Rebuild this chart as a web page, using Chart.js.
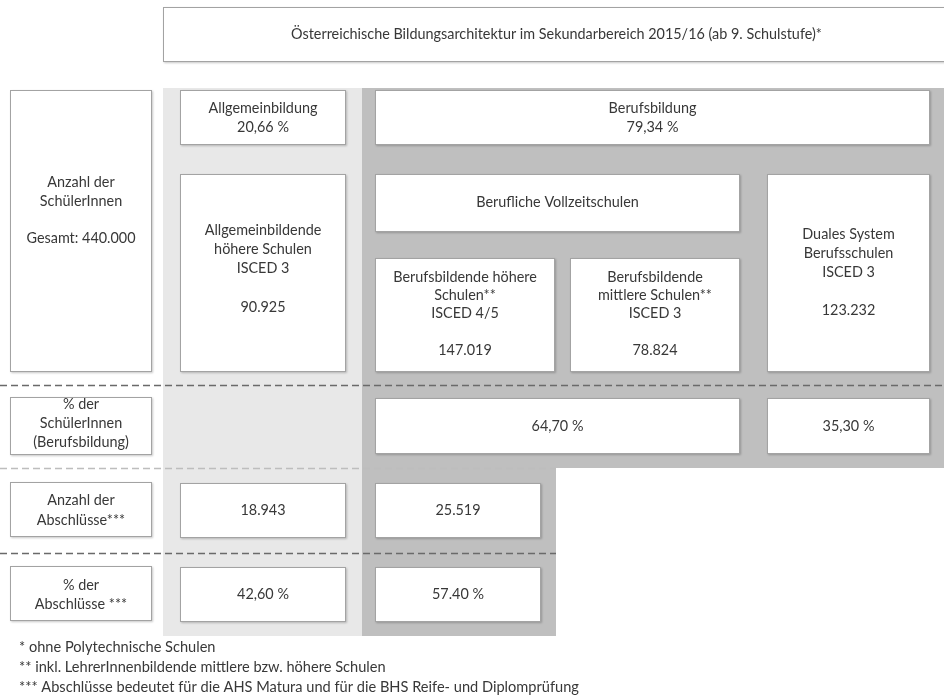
<!DOCTYPE html>
<html><head><meta charset="utf-8">
<script src="https://cdn.jsdelivr.net/npm/chart.js@4.4.1/dist/chart.umd.min.js"></script>
<style>html,body{margin:0;padding:0;background:#fff;overflow:hidden}#wrap{width:944px;height:696px}</style>
</head><body><div id="wrap"><canvas id="c" width="944" height="696"></canvas></div>
<script>
// ---------- data ----------
const title = "Österreichische Bildungsarchitektur im Sekundarbereich 2015/16 (ab 9. Schulstufe)*";
const rowLabels = [
  ["Anzahl der", "SchülerInnen", "Gesamt: 440.000"],
  ["% der", "SchülerInnen", "(Berufsbildung)"],
  ["Anzahl der", "Abschlüsse***"],
  ["% der", "Abschlüsse ***"]
];
const sectors = ["Allgemeinbildung", "Berufsbildung"];
const sectorShare = [20.66, 79.34];
const groupName = "Berufliche Vollzeitschulen";
const schoolNames = [
  ["Allgemeinbildende", "höhere Schulen", "ISCED 3"],
  ["Berufsbildende höhere", "Schulen**", "ISCED 4/5"],
  ["Berufsbildende", "mittlere Schulen**", "ISCED 3"],
  ["Duales System", "Berufsschulen", "ISCED 3"]
];
const students = [90925, 147019, 78824, 123232];
const vocShare = [64.70, 35.30];
const graduates = [18943, 25519];
const gradShare = [42.60, 57.40];
const gradShareSep = [",", "."];
const footnotes = [
  "* ohne Polytechnische Schulen",
  "** inkl. LehrerInnenbildende mittlere bzw. höhere Schulen",
  "*** Abschlüsse bedeutet für die AHS Matura und für die BHS Reife- und Diplomprüfung"
];

// ---------- layout (in scale units) ----------
const FONT = "Lato";
const TEXT = "#383838";
const num = v => v.toLocaleString("de-DE");
const pct = (v, sep) => v.toFixed(2).replace(".", sep || ",") + " %";

const panels = [
  { fill: "#e8e8e8", pts: [[163,88],[362,88],[362,636],[163,636]] },
  { fill: "#bfbfbf", pts: [[362,88],[950,88],[950,468],[556,468],[556,636],[362,636]] }
];
const dashes = [
  { y: 385, x0: 0, x1: 944, color: "#6a6a6a", w: 1.3 },
  { y: 468, x0: 0, x1: 556, color: "#bdbdbd", w: 1.3 },
  { y: 553, x0: 0, x1: 556, color: "#6a6a6a", w: 1.3 }
];
const cells = [
  { r: [163,7,950,62], lines: [title], ys: [34], size: 14.4 },
  { r: [10,90,152,372], lines: rowLabels[0], ys: [182,201,238] },
  { r: [10,397,152,455], lines: rowLabels[1], ys: [404,423,442] },
  { r: [10,482,152,537], lines: rowLabels[2], ys: [500,520] },
  { r: [10,566,152,621], lines: rowLabels[3], ys: [585,604] },
  { r: [180,90,346,145], lines: [sectors[0], pct(sectorShare[0])], ys: [108,127] },
  { r: [375,90,930,145], lines: [sectors[1], pct(sectorShare[1])], ys: [108,127] },
  { r: [375,174,740,232], lines: [groupName], ys: [202] },
  { r: [180,174,346,372], lines: [...schoolNames[0], num(students[0])], ys: [230,249,268,307] },
  { r: [375,258,555,372], lines: [...schoolNames[1], num(students[1])], ys: [277,295,313,350] },
  { r: [570,258,740,372], lines: [...schoolNames[2], num(students[2])], ys: [277,295,313,350] },
  { r: [767,174,930,372], lines: [...schoolNames[3], num(students[3])], ys: [234,253,272,310] },
  { r: [375,398,740,454], lines: [pct(vocShare[0])], ys: [426] },
  { r: [767,398,930,454], lines: [pct(vocShare[1])], ys: [426] },
  { r: [180,483,346,538], lines: [num(graduates[0])], ys: [510] },
  { r: [375,483,541,538], lines: [num(graduates[1])], ys: [510] },
  { r: [180,567,346,622], lines: [pct(gradShare[0], gradShareSep[0])], ys: [594] },
  { r: [375,567,541,622], lines: [pct(gradShare[1], gradShareSep[1])], ys: [594] }
];
const footX = 19;
const footY = [647, 667, 687];

// ---------- plugin ----------
const diagram = {
  id: "diagram",
  afterDraw(chart) {
    const { ctx, scales: { x, y } } = chart;
    const px = v => Math.round(x.getPixelForValue(v));
    const py = v => Math.round(y.getPixelForValue(v));
    ctx.save();
    panels.forEach(p => {
      ctx.beginPath();
      p.pts.forEach((pt, i) => i ? ctx.lineTo(px(pt[0]), py(pt[1])) : ctx.moveTo(px(pt[0]), py(pt[1])));
      ctx.closePath();
      ctx.fillStyle = p.fill;
      ctx.fill();
    });
    dashes.forEach(d => {
      ctx.beginPath();
      ctx.setLineDash([7, 4]);
      ctx.strokeStyle = d.color;
      ctx.lineWidth = d.w;
      ctx.moveTo(px(d.x0), py(d.y) + 0.5);
      ctx.lineTo(px(d.x1), py(d.y) + 0.5);
      ctx.stroke();
    });
    ctx.setLineDash([]);
    cells.forEach(c => {
      const x0 = px(c.r[0]), y0 = py(c.r[1]), x1 = px(c.r[2]), y1 = py(c.r[3]);
      ctx.save();
      ctx.shadowColor = "rgba(0,0,0,0.22)";
      ctx.shadowBlur = 2; ctx.shadowOffsetX = 1; ctx.shadowOffsetY = 1;
      ctx.fillStyle = "#ffffff";
      ctx.fillRect(x0, y0, x1 - x0, y1 - y0);
      ctx.restore();
      ctx.strokeStyle = "#a3a3a3";
      ctx.lineWidth = 1;
      ctx.strokeRect(x0 + 0.5, y0 + 0.5, x1 - x0 - 1, y1 - y0 - 1);
      ctx.fillStyle = TEXT;
      ctx.font = (c.size || 14.4) + "px " + FONT;
      ctx.textAlign = "center";
      ctx.textBaseline = "middle";
      const cx = (x0 + x1) / 2;
      c.lines.forEach((t, i) => ctx.fillText(t, cx, py(c.ys[i])));
    });
    ctx.font = "14.6px " + FONT;
    ctx.textAlign = "left";
    ctx.textBaseline = "middle";
    ctx.fillStyle = TEXT;
    footnotes.forEach((t, i) => ctx.fillText(t, px(footX), py(footY[i])));
    ctx.restore();
  }
};

new Chart(document.getElementById("c"), {
  type: "scatter",
  data: { datasets: [{ data: [], pointRadius: 0 }] },
  options: {
    responsive: false, animation: false, events: [],
    layout: { padding: 0 },
    plugins: { legend: { display: false }, tooltip: { enabled: false } },
    scales: {
      x: { type: "linear", min: 0, max: 944, display: false },
      y: { type: "linear", min: 0, max: 696, reverse: true, display: false }
    }
  },
  plugins: [diagram]
});
</script>
</body></html>
